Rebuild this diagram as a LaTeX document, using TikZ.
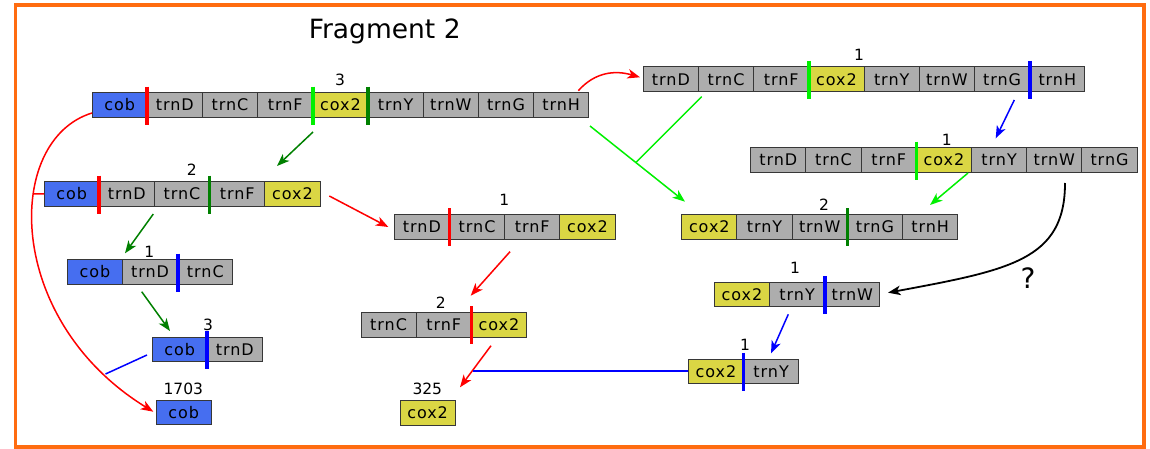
\documentclass[tikz,border=0pt]{standalone}
\usepackage{fontspec}
\setmainfont{DejaVu Sans}
\usetikzlibrary{arrows.meta}
\definecolor{cgray}{RGB}{173,173,173}
\definecolor{cblue}{RGB}{70,110,240}
\definecolor{cyel}{RGB}{218,214,68}
\definecolor{cborder}{RGB}{55,55,55}
\definecolor{frameorange}{RGB}{255,108,16}
\definecolor{lgreen}{RGB}{0,240,0}
\definecolor{dgreen}{RGB}{0,128,0}
\newfontfamily\cellfamily[LetterSpace=6]{DejaVu Sans}
\newcommand\boxfont{\cellfamily\fontsize{16}{19}\selectfont}
\newcommand\numfont{\fontsize{15.5}{18}\selectfont}
\newcommand\generow[3]{%
  \foreach \t/\c [count=\i] in {#3} {%
    \pgfmathtruncatemacro\j{\i-1}%
    \ifnum\i=1
      \node[cell,fill=\c] (#1\i) at (#2) {\t};
    \else
      \node[cell,fill=\c] (#1\i) at (#1\j.east) {\t};
    \fi
  }}
\newcommand\mkbar[2]{\draw[mkline,#1] ([yshift=6pt]#2.north west) -- ([yshift=-7.5pt]#2.south west);}
\begin{document}
\begin{tikzpicture}[x=1pt,y=-1pt,
  cell/.style={draw=cborder,line width=0.9pt,minimum width=55.2pt,minimum height=24.5pt,
    inner sep=0pt,outer sep=0pt,anchor=west,font=\boxfont,text=black},
  mkline/.style={line width=3.6pt},
  num/.style={font=\numfont,inner sep=0pt},
  conn/.style={line width=1.5pt},
  arr/.style={conn,-{Stealth[length=12.5pt,width=9.5pt,inset=3.5pt]}}]
\useasboundingbox (0,0) rectangle (1150,449);
\draw[frameorange,line width=3.6pt] (15.3,5.3) rectangle (1144,447);
\node[font=\fontsize{26.5}{30}\selectfont,anchor=base,inner sep=0pt] (title) at (384.7,38.3) {Fragment 2};

% rows
\generow{A}{92,105}{cob/cblue,trnD/cgray,trnC/cgray,trnF/cgray,cox2/cyel,trnY/cgray,trnW/cgray,trnG/cgray,trnH/cgray}
\generow{B}{643.3,79.2}{trnD/cgray,trnC/cgray,trnF/cgray,cox2/cyel,trnY/cgray,trnW/cgray,trnG/cgray,trnH/cgray}
\generow{C}{750.7,160}{trnD/cgray,trnC/cgray,trnF/cgray,cox2/cyel,trnY/cgray,trnW/cgray,trnG/cgray}
\generow{D}{44,193.9}{cob/cblue,trnD/cgray,trnC/cgray,trnF/cgray,cox2/cyel}
\generow{E}{67.3,271.8}{cob/cblue,trnD/cgray,trnC/cgray}
\generow{F}{152,349.2}{cob/cblue,trnD/cgray}
\generow{G}{156,412.5}{cob/cblue}
\generow{H}{394.3,226.7}{trnD/cgray,trnC/cgray,trnF/cgray,cox2/cyel}
\generow{I}{361,324.7}{trnC/cgray,trnF/cgray,cox2/cyel}
\generow{J}{400,412.8}{cox2/cyel}
\generow{L}{681.7,226.7}{cox2/cyel,trnY/cgray,trnW/cgray,trnG/cgray,trnH/cgray}
\generow{M}{714.3,294.5}{cox2/cyel,trnY/cgray,trnW/cgray}
\generow{K}{688.3,371.2}{cox2/cyel,trnY/cgray}

% markers
\mkbar{red}{A2}
\mkbar{lgreen}{A5}
\mkbar{dgreen}{A6}
\mkbar{lgreen}{B4}
\mkbar{blue}{B8}
\mkbar{lgreen}{C4}
\mkbar{red}{D2}
\mkbar{dgreen}{D4}
\mkbar{blue}{E3}
\mkbar{blue}{F2}
\mkbar{red}{H2}
\mkbar{red}{I3}
\mkbar{dgreen}{L4}
\mkbar{blue}{M3}
\mkbar{blue}{K2}

% counts
\node[num] (nA) at (340,80) {3};
\node[num] (nB) at (859,55.3) {1};
\node[num] (nC) at (946.7,139.5) {1};
\node[num] (nD) at (191.7,170) {2};
\node[num] (nE) at (149.3,251.7) {1};
\node[num] (nF) at (208,325) {3};
\node[num] (nG) at (183.3,389) {1703};
\node[num] (nH) at (504.3,199.4) {1};
\node[num] (nI) at (440.7,302.3) {2};
\node[num] (nJ) at (427.3,389) {325};
\node[num] (nL) at (824,205) {2};
\node[num] (nM) at (795,268.3) {1};
\node[num] (nK) at (745,345.3) {1};
\node[font=\fontsize{28}{32}\selectfont,inner sep=0pt] (q) at (1028,278) {?};

% connector end points
\coordinate (c1s) at (313,132);   \coordinate (c1e) at (277,166);
\coordinate (c2s) at (153.3,214); \coordinate (c2e) at (125,253.3);
\coordinate (c3s) at (141.7,291.7); \coordinate (c3e) at (170,331);
\coordinate (c4s) at (92,113);    \coordinate (c4e) at (153.3,411.7);
\coordinate (tick) at (33,194); \coordinate (rc) at (105.5,374);
\coordinate (c5s) at (147,355);
\coordinate (c6s) at (329.3,196); \coordinate (c6e) at (388.3,227);
\coordinate (c7s) at (510,251.7); \coordinate (c7e) at (470.7,295.7);
\coordinate (c8s) at (491,345.7); \coordinate (c8e) at (460,387.3);
\coordinate (c9s) at (473.3,371.2);
\coordinate (c10s) at (578.3,90.7); \coordinate (c10e) at (640,77.3);
\coordinate (c11s) at (590,126);  \coordinate (c11e) at (685,201.7);
\coordinate (c11b) at (701.7,96.7); \coordinate (c11j) at (636,162.3);
\coordinate (c12s) at (1014.3,100); \coordinate (c12e) at (995.7,138.3);
\coordinate (c13s) at (968,173);  \coordinate (c13e) at (930,205);
\coordinate (c14s) at (1065,183); \coordinate (c14e) at (888,292.7);
\coordinate (c15s) at (788.3,314.3); \coordinate (c15e) at (771,353.3);

% connectors
\draw[arr,dgreen] (c1s) -- (c1e);
\draw[arr,dgreen] (c2s) -- (c2e);
\draw[arr,dgreen] (c3s) -- (c3e);
\draw[arr,red] (c4s) .. controls (4,140) and (4,320) .. (c4e);
\draw[conn,red] (tick) -- (D1.west);
\draw[conn,blue] (c5s) -- (rc);
\draw[arr,red] (c6s) -- (c6e);
\draw[arr,red] (c7s) -- (c7e);
\draw[arr,red] (c8s) -- (c8e);
\draw[conn,blue] (c9s) -- (K1.west);
\draw[arr,red] (c10s) .. controls (595,72) and (615,70) .. (c10e);
\draw[arr,lgreen] (c11s) -- (c11e);
\draw[conn,lgreen] (c11b) -- (c11j);
\draw[arr,blue] (c12s) -- (c12e);
\draw[arr,lgreen] (c13s) -- (c13e);
\draw[arr,black,line width=1.8pt] (c14s) .. controls (1065,260) and (1010,270) .. (c14e);
\draw[arr,blue] (c15s) -- (c15e);
\end{tikzpicture}
\end{document}
